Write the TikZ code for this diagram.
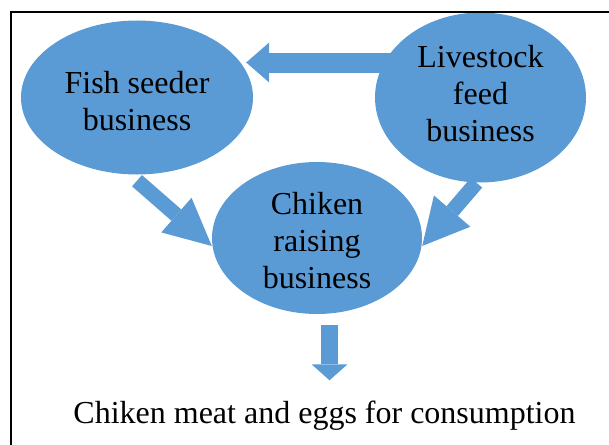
\documentclass[tikz,border=0pt]{standalone}
\usepackage{fontspec}
\setmainfont{Liberation Serif}
\usepackage{xcolor}
\usetikzlibrary{shapes.geometric,arrows.meta,backgrounds}
\definecolor{bizblue}{HTML}{5B9BD5}

\begin{document}
\begin{tikzpicture}[x=1pt,y=-1pt]
\tikzset{bubble/.style={ellipse,fill=bizblue,inner sep=0pt,align=center}}
\tikzset{blockarrow/.style n args={3}{draw=bizblue,line width=#1,-{Triangle[width=#2,length=#3,line width=0pt]}}}

\fontsize{32}{37}\selectfont

\path[use as bounding box,clip] (0,0) rectangle (609,444);

\node[bubble,minimum width=232pt,minimum height=154pt] (fish) at (137,97.5) {\rule{0pt}{29pt}Fish seeder\\business};
\node[bubble,minimum width=211pt,minimum height=170pt] (feed) at (480.5,97.5) {Livestock\\feed\\business\rule[-9pt]{0pt}{9pt}};
\node[bubble,minimum width=210pt,minimum height=152pt] (chicken) at (317,238) {\rule{0pt}{27pt}Chiken\\raising\\business};
\node[anchor=base,inner sep=0pt] (product) at (324.5,423) {Chiken meat and eggs for consumption};

\begin{scope}[on background layer]
\draw[blockarrow={20pt}{40pt}{23pt}] ([yshift=35pt]feed.center) -- ([xshift=-7pt,yshift=35pt]fish.east);
\draw[blockarrow={15pt}{46pt}{47pt}] ([yshift=-6pt]fish.south) -- ([yshift=-8pt]chicken.west);
\draw[blockarrow={15pt}{48pt}{46pt}] ([xshift=-4pt]feed.south) -- ([yshift=-8pt]chicken.east);
\draw[blockarrow={17pt}{36pt}{16pt},shorten <=11pt,shorten >=20pt] ([xshift=12.5pt]chicken.south) -- ([xshift=5pt]product.north);
\end{scope}

\draw[line width=1.5pt] (11,12) rectangle (620,455);

\end{tikzpicture}
\end{document}
